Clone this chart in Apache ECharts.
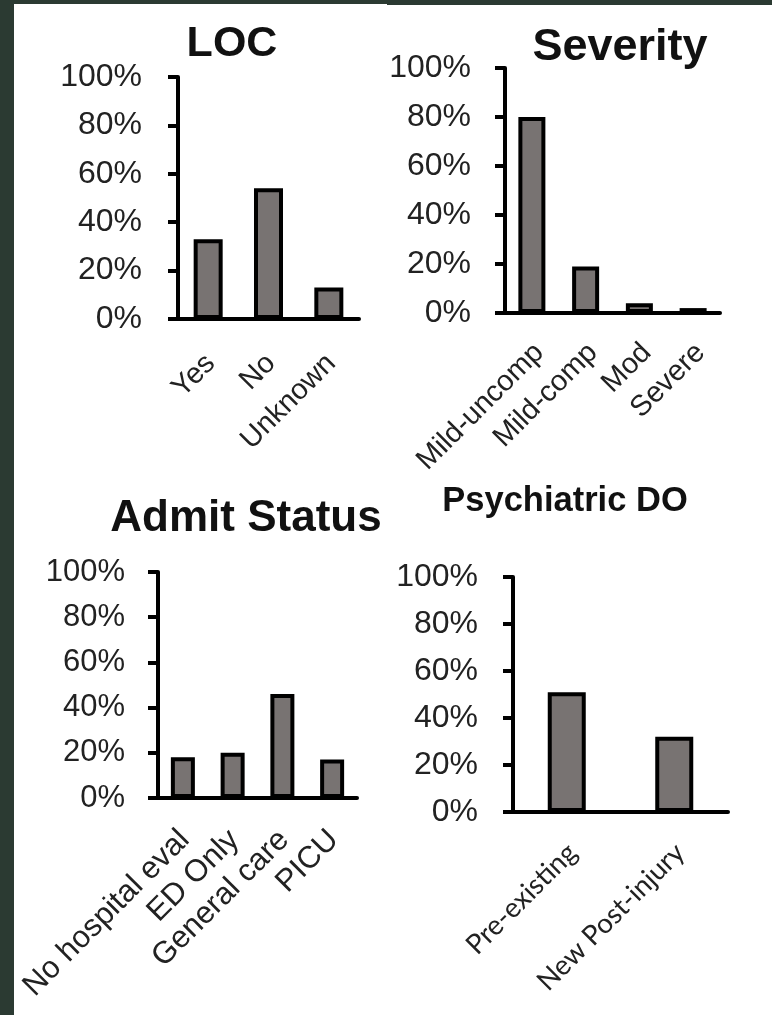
<!DOCTYPE html>
<html>
<head>
<meta charset="utf-8">
<script src="https://cdn.jsdelivr.net/npm/echarts@6/dist/echarts.min.js"></script>
<style>
  html, body { margin: 0; padding: 0; background: #2b3a32; width: 772px; height: 1015px; overflow: hidden; }
  #frame { position: absolute; left: 14px; top: 4px; width: 758px; height: 1011px; background: #ffffff; }
  #edge { position: absolute; left: 387px; top: 4px; width: 385px; height: 1px; background: #2b3a32; }
  #chart { position: absolute; left: 0; top: 0; width: 772px; height: 1015px; }
</style>
</head>
<body>
<div id="frame"></div>
<div id="edge"></div>
<div id="chart"></div>
<script>
// Share of patients (%) in each group
const locCategories = ['Yes', 'No', 'Unknown'];
const locValues = [33, 54, 13];

const severityCategories = ['Mild-uncomp', 'Mild-comp', 'Mod', 'Severe'];
const severityValues = [80, 19, 4, 2];

const admitCategories = ['No hospital eval', 'ED Only', 'General care', 'PICU'];
const admitValues = [18, 20, 46, 17];

const psychCategories = ['Pre-existing', 'New Post-injury'];
const psychValues = [51, 32];

const percentTickLabels = ['0%', '20%', '40%', '60%', '80%', '100%'];
const panelTitles = ['LOC', 'Severity', 'Admit Status', 'Psychiatric DO'];

// Layout of the four small panels
const panels = [
  { title: panelTitles[0], cats: locCategories, vals: locValues,
    grid: { left: 178, top: 77, width: 181, height: 242 },
    titleX: 232, titleTop: 23, titleSize: 43,
    tickSize: 32, tickMargin: 36, tickShift: 7,
    catSize: 29, catFont: 'Liberation Sans', catMargin: 22, catPad: 11, barWidth: 29 },
  { title: panelTitles[1], cats: severityCategories, vals: severityValues,
    grid: { left: 505, top: 68, width: 215, height: 245 },
    titleX: 620, titleTop: 25, titleSize: 45,
    tickSize: 32, tickMargin: 34, tickShift: 4,
    catSize: 29, catFont: 'Liberation Sans', catMargin: 22, catPad: 4, barWidth: 27 },
  { title: panelTitles[2], cats: admitCategories, vals: admitValues,
    grid: { left: 158, top: 572, width: 199, height: 226 },
    titleX: 246, titleTop: 497, titleSize: 44,
    tickSize: 31, tickMargin: 33, tickShift: 10,
    catSize: 31, catFont: 'Liberation Sans', catMargin: 17, catPad: 13, barWidth: 24 },
  { title: panelTitles[3], cats: psychCategories, vals: psychValues,
    grid: { left: 513, top: 577, width: 215, height: 235 },
    titleX: 565, titleTop: 484, titleSize: 34.5,
    tickSize: 32, tickMargin: 35, tickShift: 6,
    catSize: 27.5, catFont: 'Lato', catMargin: 22, catPad: 6, barWidth: 38 }
];

const AXIS_W = 4;
const INK = '#000000';

const option = {
  animation: false,
  backgroundColor: 'transparent',
  title: panels.map(p => ({
    text: p.title,
    left: p.titleX,
    top: p.titleTop,
    textAlign: 'center',
    padding: 0,
    textStyle: { fontFamily: 'Liberation Sans', fontWeight: 'bold', fontSize: p.titleSize, color: '#111111' }
  })),
  grid: panels.map(p => Object.assign({ outerBoundsMode: 'none', containLabel: false }, p.grid)),
  xAxis: panels.map((p, i) => ({
    type: 'category',
    gridIndex: i,
    data: p.cats,
    axisLine: { show: true, lineStyle: { color: INK, width: AXIS_W } },
    axisTick: { show: false },
    splitLine: { show: false },
    axisLabel: {
      interval: 0,
      rotate: 45,
      align: 'right',
      verticalAlign: 'top',
      margin: p.catMargin,
      padding: [0, p.catPad, 0, 0],
      fontFamily: p.catFont,
      fontSize: p.catSize,
      color: '#222222'
    }
  })),
  yAxis: panels.map((p, i) => ({
    type: 'value',
    gridIndex: i,
    min: 0,
    max: 100,
    interval: 20,
    axisLine: { show: true, lineStyle: { color: INK, width: AXIS_W } },
    axisTick: { show: true, inside: false, length: 10, lineStyle: { color: INK, width: AXIS_W } },
    splitLine: { show: false },
    axisLabel: {
      margin: p.tickMargin,
      padding: [p.tickShift, 0, 0, 0],
      fontFamily: 'Liberation Sans',
      fontSize: p.tickSize,
      color: '#222222',
      formatter: v => percentTickLabels[Math.round(v / 20)]
    }
  })),
  series: panels.map((p, i) => ({
    type: 'bar',
    xAxisIndex: i,
    yAxisIndex: i,
    data: p.vals,
    barWidth: p.barWidth,
    itemStyle: { color: '#787372', borderColor: INK, borderWidth: AXIS_W }
  }))
};

const chart = echarts.init(document.getElementById('chart'), null, { renderer: 'canvas', width: 772, height: 1015 });
chart.setOption(option);
</script>
</body>
</html>
